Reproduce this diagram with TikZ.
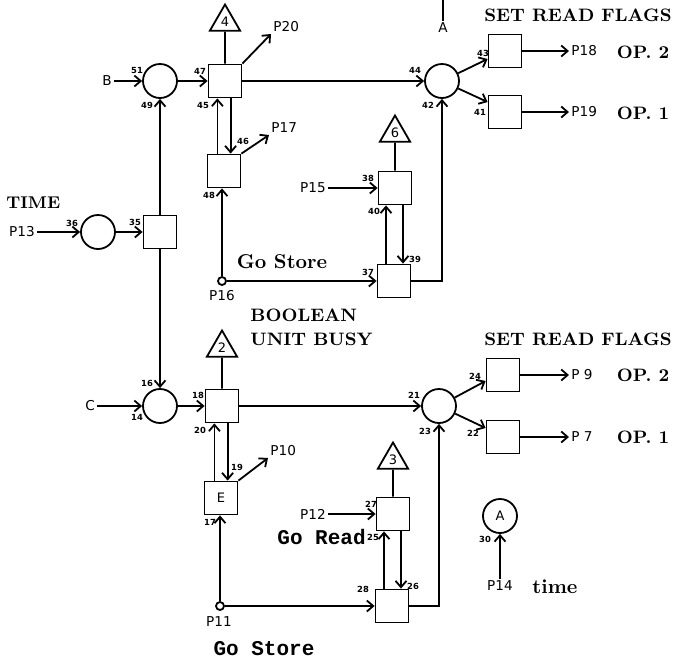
\documentclass[tikz,border=0pt]{standalone}
\usepackage{fontspec}
\setsansfont{DejaVu Sans}
\setmonofont{Liberation Mono}
\usepackage{tikz}
\usetikzlibrary{shapes.geometric, arrows.meta, calc}
\tikzset{
    flowline/.style={line width=0.9pt},
    flowarrow/.style={flowline, -{Straight Barb[length=3.2pt, width=5.5pt]}},
    unitbox/.style={draw, flowline, rectangle, minimum size=16.5pt, inner sep=0pt, font=\sffamily\fontsize{6.5}{7}\selectfont},
    joinnode/.style={draw, flowline, circle, minimum size=17pt, inner sep=0pt, font=\sffamily\fontsize{6.5}{7}\selectfont},
    tapnode/.style={draw, flowline, circle, minimum size=4pt, inner sep=0pt},
    flagtri/.style={draw, flowline, regular polygon, regular polygon sides=3, minimum size=17.5pt, inner sep=0pt, font=\sffamily\fontsize{6.5}{7}\selectfont},
    plabel/.style={font=\sffamily\fontsize{6.8}{7}\selectfont, inner sep=1pt},
    numlabel/.style={font=\sffamily\bfseries\fontsize{4.2}{4.5}\selectfont, inner sep=0pt},
    heading/.style={font=\bfseries\fontsize{9}{12}\selectfont, inner sep=0pt, align=left},
    golabel/.style={font=\ttfamily\bfseries\fontsize{10.5}{12}\selectfont, inner sep=0pt},
}

\begin{document}
\begin{tikzpicture}[x=0.5pt, y=-0.5pt]
            \useasboundingbox (0,0) rectangle (682,661);

            % Upper unit
            \node[flagtri] (t4) at (225,22) {4};
            \node[unitbox] (b47) at (225,81) {};
            \node[joinnode] (c51) at (160,81) {};
            \node[plabel] (inB) at (107,81) {B};
            \node[unitbox] (b48) at (224,171) {};
            \node[plabel, anchor=south west] (p20) at (271,34) {P20};
            \node[plabel, anchor=south west] (p17) at (269,135) {P17};
            \node[unitbox] (b35) at (160,232) {};
            \node[joinnode] (c36) at (98,232) {};
            \node[plabel] (p13) at (22,232) {P13};
            \node[font=\bfseries\fontsize{8.5}{9}\selectfont, anchor=west, inner sep=0pt] (timehdr) at (6,203) {TIME};
            \node[tapnode] (p16) at (222,281) {};
            \node[plabel] (p16t) at (222,296) {P16};
            \node[font=\bfseries\fontsize{10}{12}\selectfont, inner sep=0pt] (gostore1) at (282,262) {Go Store};
            \node[flagtri] (t6) at (395,133) {6};
            \node[unitbox] (b38) at (395,188) {};
            \node[unitbox] (b37) at (394,281) {};
            \node[plabel] (p15) at (313,188) {P15};
            \node[joinnode] (c44) at (442,81) {};
            \node[unitbox] (b43) at (505,51) {};
            \node[unitbox] (b41) at (505,112) {};
            \node[plabel, anchor=west] (p18) at (569,51) {P18};
            \node[plabel, anchor=west] (p19) at (569,112) {P19};
            \node[heading] (op2a) at (643,52) {OP. 2};
            \node[heading] (op1a) at (643,113) {OP. 1};
            \node[heading] (flags1) at (578,15) {SET READ FLAGS};
            \coordinate (atop) at (443,0);
            \node[plabel] (a1) at (443,28) {A};

            % Lower unit
            \node[heading, anchor=west] (busy) at (250,327) {BOOLEAN\\UNIT BUSY};
            \node[flagtri] (t2) at (222,348) {2};
            \node[unitbox] (b18) at (222,406) {};
            \node[joinnode] (c16) at (160,406) {};
            \node[plabel] (inC) at (90,406) {C};
            \node[unitbox] (bE) at (221,498) {E};
            \node[plabel, anchor=south west] (p10) at (268,458) {P10};
            \node[tapnode] (p11) at (220,606) {};
            \node[plabel] (p11t) at (219,622) {P11};
            \node[golabel] (gostore2) at (264,649) {Go Store};
            \node[golabel, anchor=west] (goread) at (277,537) {Go Read};
            \node[flagtri] (t3) at (393,460) {3};
            \node[unitbox] (b27) at (393,514) {};
            \node[unitbox] (b28) at (392,606) {};
            \node[plabel] (p12) at (313,514) {P12};
            \node[joinnode] (c21) at (439,406) {};
            \node[unitbox] (b24) at (503,375) {};
            \node[unitbox] (b22) at (503,437) {};
            \node[plabel, anchor=west] (p9) at (569,375) {P 9};
            \node[plabel, anchor=west] (p7) at (569,437) {P 7};
            \node[heading] (op2b) at (643,375) {OP. 2};
            \node[heading] (op1b) at (643,437) {OP. 1};
            \node[heading] (flags2) at (578,339) {SET READ FLAGS};
            \node[joinnode] (cA) at (500,516) {A};
            \node[plabel] (p14) at (500,586) {P14};
            \node[font=\bfseries\fontsize{10}{12}\selectfont, inner sep=0pt] (timelbl) at (555,587) {time};

            % Port numbers
            \foreach \t/\x/\y in {51/137/70, 49/147/105, 47/200/71, 45/203/105, 46/243/141, 48/209/195,
                                  36/72/223, 35/135/222, 44/415/70, 42/428/105, 43/483/53, 41/480/112,
                                  38/368/178, 40/374/211, 39/415/259, 37/368/272,
                                  16/147/383, 14/137/417, 18/198/395, 20/200/430, 19/237/467, 17/210/522,
                                  21/414/395, 23/425/431, 24/475/376, 22/473/433, 27/371/504, 25/373/537,
                                  26/413/586, 28/363/589, 30/485/539}
                \node[numlabel] (n\t) at (\x,\y) {\t};

            % Upper connections
            \draw[flowarrow] (inB) -- (c51);
            \draw[flowarrow] (c51) -- (b47);
            \draw[flowline] (t4) -- (b47);
            \draw[flowarrow] (b47.north east) -- (p20.south west);
            \draw[flowarrow] ([xshift=-3.3pt]b48.north) -- ([xshift=-3.3pt]b48.north |- b47.south);
            \draw[flowarrow] ([xshift=3.3pt]b48.north |- b47.south) -- ([xshift=3.3pt]b48.north);
            \draw[flowarrow] (b48.north east) -- (p17.south west);
            \draw[flowarrow] (p13) -- (c36);
            \draw[flowarrow] (c36) -- (b35);
            \draw[flowarrow] (b35) -- (c51);
            \draw[flowarrow] (b35) -- (c16);
            \draw[flowarrow] (p16) -- (p16 |- b48.south);
            \draw[flowarrow] (p16) -- (b37);
            \draw[flowarrow] (b47) -- (c44);
            \draw[flowarrow] (b37.east) -| (c44.south);
            \draw[flowline] (t6) -- (b38);
            \draw[flowarrow] (p15) -- (b38);
            \draw[flowarrow] ([xshift=-4pt]b37.north) -- ([xshift=-4pt]b37.north |- b38.south);
            \draw[flowarrow] ([xshift=4.5pt]b37.north |- b38.south) -- ([xshift=4.5pt]b37.north);
            \draw[flowarrow] (c44) -- ([yshift=-4pt]b43.west);
            \draw[flowarrow] (c44) -- ([yshift=5pt]b41.west);
            \draw[flowarrow] (b43) -- (p18);
            \draw[flowarrow] (b41) -- (p19);
            \draw[flowline] (atop) -- (a1);

            % Lower connections
            \draw[flowarrow] (inC) -- (c16);
            \draw[flowarrow] (c16) -- (b18);
            \draw[flowline] (t2) -- (b18);
            \draw[flowarrow] (b18) -- (c21);
            \draw[flowarrow] ([xshift=-3.3pt]bE.north) -- ([xshift=-3.3pt]bE.north |- b18.south);
            \draw[flowarrow] ([xshift=3.3pt]bE.north |- b18.south) -- ([xshift=3.3pt]bE.north);
            \draw[flowarrow] (bE.north east) -- (p10.south west);
            \draw[flowarrow] (p11) -- (p11 |- bE.south);
            \draw[flowarrow] (p11) -- (b28);
            \draw[flowarrow] (b28.east) -| (c21.south);
            \draw[flowline] (t3) -- (b27);
            \draw[flowarrow] (p12) -- (b27);
            \draw[flowarrow] ([xshift=-4pt]b28.north) -- ([xshift=-4pt]b28.north |- b27.south);
            \draw[flowarrow] ([xshift=4.5pt]b28.north |- b27.south) -- ([xshift=4.5pt]b28.north);
            \draw[flowarrow] (c21) -- ([yshift=-3pt]b24.west);
            \draw[flowarrow] (c21) -- ([yshift=4.5pt]b22.west);
            \draw[flowarrow] (b24) -- (p9);
            \draw[flowarrow] (b22) -- (p7);
            \draw[flowarrow] (p14) -- (cA);
        \end{tikzpicture}
\end{document}
